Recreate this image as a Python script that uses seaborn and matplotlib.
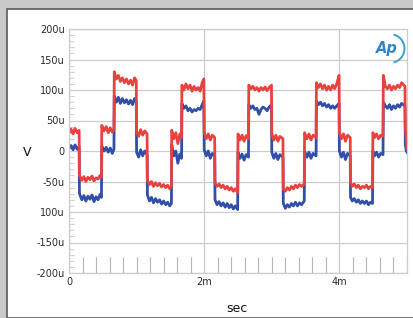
import matplotlib
matplotlib.use("Agg")
import matplotlib.pyplot as plt
from matplotlib.patches import Rectangle, Arc
from matplotlib.ticker import MultipleLocator
import seaborn as sns
import pandas as pd

# time in ms, levels in uV
t_ms = [
    0.00, 0.03, 0.06, 0.09, 0.12, 0.15,
    0.155, 0.19, 0.22, 0.25, 0.28, 0.31, 0.34, 0.37, 0.40, 0.43, 0.46, 0.48,
    0.485, 0.52, 0.55, 0.58, 0.61, 0.64, 0.665,
    0.67, 0.70, 0.73, 0.76, 0.79, 0.82, 0.85, 0.88, 0.91, 0.94, 0.97, 0.995,
    1.00, 1.03, 1.06, 1.09, 1.12, 1.155,
    1.16, 1.19, 1.22, 1.25, 1.28, 1.31, 1.34, 1.37, 1.40, 1.43, 1.46, 1.49, 1.515,
    1.52, 1.55, 1.58, 1.61, 1.64, 1.665,
    1.67, 1.70, 1.73, 1.76, 1.79, 1.82, 1.85, 1.88, 1.91, 1.94, 1.97, 1.995,
    2.00, 2.03, 2.06, 2.09, 2.12, 2.155,
    2.16, 2.19, 2.22, 2.25, 2.28, 2.31, 2.34, 2.37, 2.40, 2.43, 2.46, 2.495,
    2.50, 2.53, 2.56, 2.59, 2.62, 2.655,
    2.66, 2.69, 2.72, 2.75, 2.78, 2.81, 2.84, 2.87, 2.90, 2.93, 2.96, 2.995,
    3.00, 3.03, 3.06, 3.09, 3.12, 3.165,
    3.17, 3.20, 3.23, 3.26, 3.29, 3.32, 3.35, 3.38, 3.41, 3.44, 3.48,
    3.485, 3.52, 3.55, 3.58, 3.61, 3.655,
    3.66, 3.69, 3.72, 3.75, 3.78, 3.81, 3.84, 3.87, 3.90, 3.93, 3.96, 3.995,
    4.00, 4.03, 4.06, 4.09, 4.12, 4.16,
    4.165, 4.19, 4.22, 4.25, 4.28, 4.31, 4.34, 4.37, 4.40, 4.43, 4.46, 4.49,
    4.495, 4.52, 4.55, 4.58, 4.61, 4.645,
    4.65, 4.68, 4.71, 4.74, 4.77, 4.80, 4.83, 4.86, 4.89, 4.92, 4.97,
    4.975, 4.99, 5.00,
]

red_uv = [
    30, 36, 28, 37, 30, 34,
    -40, -48, -42, -50, -43, -47, -41, -49, -44, -46, -40, -43,
    42, 33, 40, 30, 38, 31, 36,
    130, 118, 124, 114, 120, 112, 118, 110, 116, 108, 120, 115,
    32, 24, 35, 26, 33, 28,
    -48, -55, -50, -58, -52, -57, -53, -59, -55, -60, -56, -62, -58,
    34, 20, 30, 12, 28, 22,
    108, 100, 110, 102, 108, 98, 106, 100, 104, 98, 112, 118,
    30, 20, 28, 18, 26, 22,
    -52, -58, -54, -60, -56, -62, -58, -64, -60, -66, -62, -68,
    28, 18, 26, 16, 25, 20,
    108, 102, 106, 100, 104, 98, 104, 100, 105, 99, 104, 108,
    28, 18, 26, 16, 24, 20,
    -62, -66, -60, -64, -58, -62, -56, -60, -55, -58, -54,
    30, 20, 28, 18, 26, 22,
    112, 104, 110, 102, 108, 100, 106, 100, 108, 102, 110, 124,
    30, 20, 28, 16, 26, 22,
    -52, -58, -54, -60, -56, -62, -58, -60, -56, -62, -58, -60,
    30, 22, 28, 20, 26, 24,
    124, 106, 102, 108, 100, 106, 102, 108, 104, 112, 106,
    40, 20, 5,
]

blue_uv = [
    4, 9, 2, 10, 3, 7,
    -70, -80, -73, -82, -74, -79, -72, -83, -75, -80, -71, -76,
    8, 0, 6, -2, 5, -4, 3,
    90, 80, 88, 78, 86, 79, 84, 77, 83, 76, 86, 82,
    -2, -10, 2, -8, 0, -6,
    -72, -82, -76, -85, -78, -84, -80, -87, -82, -88, -84, -90, -86,
    10, -8, 0, -20, -5, -12,
    78, 70, 74, 66, 70, 64, 68, 66, 70, 68, 76, 82,
    2, -8, 0, -12, -4, -8,
    -80, -88, -83, -90, -85, -92, -86, -93, -88, -95, -90, -96,
    -2, -12, -5, -15, -6, -10,
    76, 70, 74, 68, 70, 60, 68, 72, 70, 66, 72, 76,
    -2, -12, -4, -14, -6, -10,
    -86, -94, -88, -92, -86, -90, -84, -90, -85, -88, -82,
    0, -10, -2, -12, -4, -8,
    82, 76, 80, 74, 78, 72, 76, 70, 74, 70, 74, 78,
    0, -10, -2, -14, -4, -8,
    -76, -82, -78, -84, -80, -86, -82, -86, -82, -88, -84, -86,
    0, -8, -2, -10, -4, -6,
    80, 74, 70, 76, 68, 74, 70, 76, 72, 78, 74,
    10, 0, -2,
]

y_ticks = [-200, -150, -100, -50, 0, 50, 100, 150, 200]
y_labels = ["-200u", "-150u", "100u", "-50u", "0", "50u", "100u", "150u", "200u"]
x_ticks = [0, 2, 4]
x_labels = ["0", "2m", "4m"]

df = pd.DataFrame({"t": t_ms, "red": red_uv, "blue": blue_uv})

fig = plt.figure(figsize=(4.14, 3.18), dpi=100, facecolor="#c9c9c9")
fig.patches.append(Rectangle((7 / 414, 0), 1, 1 - 9 / 318, transform=fig.transFigure,
                             facecolor="white", edgecolor="#5a5a5a", lw=1.2, zorder=-5))
ax = fig.add_axes([69 / 414, 1 - 273 / 318, 338 / 414, 244 / 318])
ax.set_zorder(2)

sns.lineplot(data=df, x="t", y="blue", estimator=None, sort=False,
             color="#2f4fa8", lw=2.0, ax=ax)
sns.lineplot(data=df, x="t", y="red", estimator=None, sort=False,
             color="#e8423f", lw=2.0, ax=ax)

ax.set_xlim(0, 5)
ax.set_ylim(-200, 200)
ax.set_xticks(x_ticks)
ax.set_xticklabels(x_labels)
ax.set_yticks(y_ticks)
ax.set_yticklabels(y_labels)
ax.xaxis.set_minor_locator(MultipleLocator(0.2))
ax.yaxis.set_minor_locator(MultipleLocator(10))
ax.tick_params(which="major", length=0, labelsize=7, labelcolor="#2a2a2a", pad=3)
ax.tick_params(axis="x", which="minor", direction="in", length=11.5, color="#b5b5b5", width=0.8)
ax.tick_params(axis="y", which="minor", direction="in", length=3.5, color="#c8c8c8", width=0.6)
ax.grid(True, which="major", color="#cccccc", lw=0.9)
ax.set_axisbelow(True)
for s in ax.spines.values():
    s.set_color("#cccccc")
    s.set_linewidth(0.9)

ax.set_xlabel("")
ax.set_ylabel("")
fig.text(27 / 414, 1 - 152 / 318, "V", fontsize=9, ha="center", va="center", color="#111111")
fig.text(237 / 414, 1 - 309 / 318, "sec", fontsize=9, ha="center", va="center", color="#111111")

# Audio Precision logo
ax.text(0.94, 0.92, "Ap", transform=ax.transAxes, fontsize=10.5, fontstyle="italic",
        fontweight="bold", color="#2e86c8", ha="center", va="center")
ax.add_patch(Arc((0.95, 0.92), 0.085, 0.085 * 338 / 244, theta1=-80, theta2=80,
                 transform=ax.transAxes, color="#3aa0d0", lw=1.4))

fig.savefig("out.png", dpi=100, facecolor=fig.get_facecolor())
